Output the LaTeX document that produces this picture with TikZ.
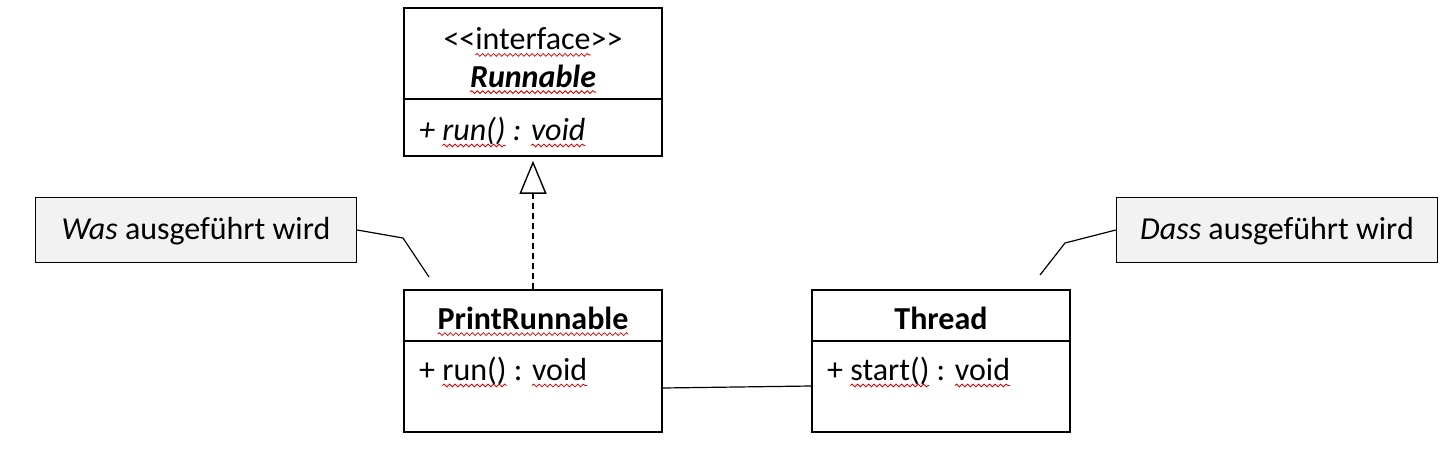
\documentclass[tikz,border=0pt]{standalone}
\usepackage{fontspec}
\setmainfont{Carlito}
\usetikzlibrary{arrows.meta,decorations.pathmorphing}
\tikzset{
  umlbox/.style={draw=black, line width=1.6pt, rectangle, inner sep=0pt, minimum width=258pt},
  notebox/.style={draw=black, line width=1.4pt, fill=black!5, rectangle, inner sep=0pt, minimum width=321pt, minimum height=65pt},
  txt/.style={inner sep=0pt, font=\fontsize{32}{38}\selectfont},
  conn/.style={line width=1.2pt, black},
  wavy/.style={draw=red!85!black, line width=0.8pt, decorate, decoration={snake, amplitude=1.4pt, segment length=5.5pt}}
}
\newcommand\sqw[1]{\tikz[baseline=(w.base)]{\node[inner sep=0pt,outer sep=0pt,anchor=base] (w) {#1};\draw[wavy, overlay] ([yshift=-5pt]w.base west) -- ([yshift=-5pt]w.base east);}}
\begin{document}
\begin{tikzpicture}[x=1pt,y=-1pt]
\useasboundingbox (0,0) rectangle (1454,466);
% Runnable
\node[umlbox, minimum height=148pt] (runn) at (533,82) {};
\draw[line width=1.4pt] (runn.west |- 0,99) -- (runn.east |- 0,99);
\node[txt] (runst) at (533,39) {{<}{<}\sqw{interface}{>}{>}};
\node[txt] (runnm) at (533,76) {\sqw{\textbf{\textit{Runnable}}}};
\node[txt, anchor=west] (runop) at (419,131) {\textit{+ \sqw{run()} : \sqw{void}}};
% PrintRunnable
\node[umlbox, minimum height=142pt] (pr) at (533,361) {};
\draw[line width=1.4pt] (pr.west |- 0,341) -- (pr.east |- 0,341);
\node[txt] (prnm) at (533,318) {\sqw{\textbf{PrintRunnable}}};
\node[txt, anchor=west] (prop) at (419,371) {+ \sqw{run()} : \sqw{void}};
% Thread
\node[umlbox, minimum height=142pt] (th) at (941,361) {};
\draw[line width=1.4pt] (th.west |- 0,341) -- (th.east |- 0,341);
\node[txt] (thnm) at (941,318) {\textbf{Thread}};
\node[txt, anchor=west] (thop) at (827,371) {+ \sqw{start()} : \sqw{void}};
% realization
\draw[conn, dash pattern=on 6pt off 4pt, -{Triangle[open, length=33pt, width=27pt, line width=1.4pt]}, shorten >=4pt] (pr.north) -- (runn.south);
% association
\draw[conn] (pr.east |- 0,388) -- (th.west |- 0,386);
% notes
\node[notebox] (was) at (196,230) {};
\node[txt] (wastx) at (196,231) {\textit{Was} ausgeführt wird};
\node[notebox] (dass) at (1277,230) {};
\node[txt] (dasstx) at (1277,231) {\textit{Dass} ausgeführt wird};
\coordinate (wk) at (403,238);
\coordinate (we) at (429,277);
\coordinate (dk) at (1065,243);
\coordinate (de) at (1040,275);
\draw[conn] (was.east) -- (wk) -- (we);
\draw[conn] (dass.west) -- (dk) -- (de);
\end{tikzpicture}
\end{document}
